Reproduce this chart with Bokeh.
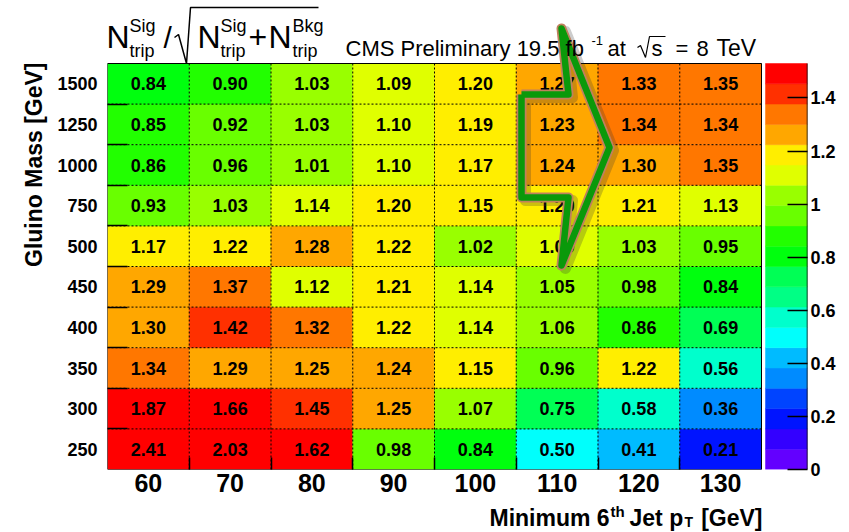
import colorsys
from bokeh.plotting import figure
from bokeh.layouts import column
from bokeh.models import (ColumnDataSource, Range1d, LinearAxis, FixedTicker,
                          LinearColorMapper, Label, Title, CustomJSTickFormatter)
from bokeh.transform import transform
from bokeh.core.properties import value
from bokeh.embed import file_html
from bokeh.resources import INLINE

# ---------------- data ----------------
min_jet_pt = [60, 70, 80, 90, 100, 110, 120, 130]
gluino_mass = [250, 300, 350, 400, 450, 500, 750, 1000, 1250, 1500]
significance = [
    [2.41, 2.03, 1.62, 0.98, 0.84, 0.50, 0.41, 0.21],  # 250
    [1.87, 1.66, 1.45, 1.25, 1.07, 0.75, 0.58, 0.36],  # 300
    [1.34, 1.29, 1.25, 1.24, 1.15, 0.96, 1.22, 0.56],  # 350
    [1.30, 1.42, 1.32, 1.22, 1.14, 1.06, 0.86, 0.69],  # 400
    [1.29, 1.37, 1.12, 1.21, 1.14, 1.05, 0.98, 0.84],  # 450
    [1.17, 1.22, 1.28, 1.22, 1.02, 1.09, 1.03, 0.95],  # 500
    [0.93, 1.03, 1.14, 1.20, 1.15, 1.20, 1.21, 1.13],  # 750
    [0.86, 0.96, 1.01, 1.10, 1.17, 1.24, 1.30, 1.35],  # 1000
    [0.85, 0.92, 1.03, 1.10, 1.19, 1.23, 1.34, 1.34],  # 1250
    [0.84, 0.90, 1.03, 1.09, 1.20, 1.27, 1.33, 1.35],  # 1500
]
z_max = 1.53
n_levels = 20
colorbar_ticks = [0, 0.2, 0.4, 0.6, 0.8, 1.0, 1.2, 1.4]

# ---------------- palette (ROOT "pretty" palette, 20 contours) ----------------
palette = []
for k in range(n_levels):
    idx = int((k + 0.99) * 50 / n_levels)
    hue = 280.0 - (idx + 1) * 280.0 / 50
    r, g, b = colorsys.hls_to_rgb(max(hue, 0) / 360.0, 0.5, 1.0)
    palette.append("#%02x%02x%02x" % (round(r * 255), round(g * 255), round(b * 255)))

# ---------------- layout geometry (pixels) ----------------
W, H = 849, 532
MAIN_H = 503
FRAME_L, FRAME_R, FRAME_B = 107, 807, 469
HEAT_TOP, HEAT_R, CB_L = 63, 761, 765
bin_w = min_jet_pt[1] - min_jet_pt[0]
px_per_x = (HEAT_R - FRAME_L) / (len(min_jet_pt) * bin_w)
px_per_y = (FRAME_B - HEAT_TOP) / len(gluino_mass)
x_lo = min_jet_pt[0] - bin_w / 2
x_hi = x_lo + (FRAME_R - FRAME_L) / px_per_x
y_hi = FRAME_B / px_per_y


def X(px):
    return x_lo + (px - FRAME_L) / px_per_x


def Y(py):
    return (FRAME_B - py) / px_per_y


FONT = "Liberation Sans"

p = figure(width=W, height=MAIN_H, x_range=Range1d(x_lo, x_hi), y_range=Range1d(0, y_hi),
           output_backend="svg", toolbar_location=None, title=None,
           min_border_left=FRAME_L, min_border_right=W - FRAME_R,
           min_border_top=0, min_border_bottom=MAIN_H - FRAME_B)
p.outline_line_color = None
p.grid.visible = False
p.background_fill_color = "white"
p.border_fill_color = "white"
p.extra_y_ranges = {"z": Range1d(0, z_max * FRAME_B / (FRAME_B - HEAT_TOP))}

mapper = LinearColorMapper(palette=palette, low=0, high=z_max, high_color=palette[-1])

# ---------------- cells ----------------
xs, ys, zs, labels = [], [], [], []
for i, m in enumerate(gluino_mass):
    for j, pt in enumerate(min_jet_pt):
        xs.append(pt)
        ys.append(i + 0.5)
        zs.append(significance[i][j])
        labels.append(f"{significance[i][j]:.2f}")
src = ColumnDataSource(dict(x=xs, y=ys, z=zs, label=labels))
p.rect(x="x", y="y", width=bin_w, height=1, source=src,
       fill_color=transform("z", mapper), line_color=transform("z", mapper), line_width=0.5)
p.text(x="x", y="y", text="label", source=src, text_align="center", text_baseline="middle",
       text_font=value(FONT), text_font_style="bold", text_font_size="18px", text_color="black")

# dotted bin-edge grid
x_edges = [pt + bin_w / 2 for pt in min_jet_pt[:-1]]
y_edges = list(range(1, len(gluino_mass)))
p.segment(x0=x_edges, y0=[0] * len(x_edges), x1=x_edges, y1=[len(gluino_mass)] * len(x_edges),
          line_color="black", line_dash="2 2", line_width=1)
p.segment(x0=[x_lo] * len(y_edges), y0=y_edges, x1=[min_jet_pt[-1] + bin_w / 2] * len(y_edges),
          y1=y_edges, line_color="black", line_dash="2 2", line_width=1)
# frame of histogram
p.quad(left=x_lo, right=min_jet_pt[-1] + bin_w / 2, bottom=0, top=len(gluino_mass),
       fill_color=None, line_color="black", line_width=1)

# ---------------- colour bar ----------------
lv = [k * z_max / n_levels for k in range(n_levels + 1)]
p.quad(left=X(CB_L), right=x_hi, bottom=lv[:-1], top=lv[1:], fill_color=palette,
       line_color=palette, line_width=0.5, y_range_name="z")
p.segment(x0=[x_hi], y0=[0], x1=[x_hi], y1=[z_max], line_color="black", line_width=1.5,
          y_range_name="z")
zaxis = LinearAxis(y_range_name="z", ticker=FixedTicker(ticks=colorbar_ticks),
                   formatter=CustomJSTickFormatter(code="return String(tick)"))
zaxis.major_tick_in = 20
zaxis.major_tick_out = 0
zaxis.major_tick_line_width = 1.5
zaxis.minor_tick_line_color = None
zaxis.axis_line_color = None
zaxis.major_label_standoff = 3
zaxis.major_label_text_font = FONT
zaxis.major_label_text_font_style = "bold"
zaxis.major_label_text_font_size = "18px"
zaxis.major_label_text_color = "black"
p.add_layout(zaxis, "right")

# ---------------- axes ----------------
xa = p.xaxis[0]
xa.ticker = FixedTicker(ticks=min_jet_pt, minor_ticks=x_edges)
xa.major_tick_line_color = None
xa.major_tick_in = 0
xa.major_tick_out = 0
xa.minor_tick_in = 12
xa.minor_tick_out = 0
xa.minor_tick_line_width = 1.5
xa.axis_line_color = None
xa.major_label_standoff = 4
xa.major_label_text_font = FONT
xa.major_label_text_font_style = "bold"
xa.major_label_text_font_size = "25px"
xa.major_label_text_color = "black"

ya = p.yaxis[0]
ya.ticker = FixedTicker(ticks=[i + 0.5 for i in range(len(gluino_mass))], minor_ticks=y_edges)
ya.major_label_overrides = {i + 0.5: str(m) for i, m in enumerate(gluino_mass)}
ya.major_tick_line_color = None
ya.major_tick_in = 0
ya.major_tick_out = 0
ya.minor_tick_in = 20
ya.minor_tick_out = 0
ya.minor_tick_line_width = 1.5
ya.axis_line_color = None
ya.major_label_standoff = 10
ya.major_label_text_font = FONT
ya.major_label_text_font_style = "bold"
ya.major_label_text_font_size = "18px"
ya.major_label_text_color = "black"

# y-axis title (ROOT style: aligned to the top of the histogram)
ytitle = Title(text="Gluino Mass [GeV]", align="right", offset=HEAT_TOP - 1,
               text_font=FONT, text_font_size="23px", text_font_style="bold",
               text_color="black")
if "standoff" in Title.properties():
    ytitle.standoff = 16
p.add_layout(ytitle, "left")


def lab(fig, fx, fy, text, px, py, size, bold=False, align="left", angle=0.0):
    # py is the pixel position of the text baseline; place the text middle
    fig.add_layout(Label(x=fx(px), y=fy(py - 0.358 * size), text=text, text_font=FONT,
                         text_font_size=f"{size}px",
                         text_font_style="bold" if bold else "normal",
                         text_align=align, text_baseline="middle", angle=angle,
                         text_color="black"))


def lm(text, px, py, size, **kw):
    lab(p, X, Y, text, px, py, size, **kw)


# title formula  N^Sig_trip / sqrt(N^Sig_trip + N^Bkg_trip)
lm("N", 106, 48, 32)
lm("Sig", 129, 32, 18)
lm("trip", 129, 57, 18)
lm("/", 163, 48, 30)
lm("N", 197, 48, 32)
lm("Sig", 220, 32, 18)
lm("trip", 220, 57, 18)
lm("+", 248, 48, 32)
lm("N", 268, 48, 32)
lm("Bkg", 292, 32, 18)
lm("trip", 292, 57, 18)
rad_px = [(174, 37), (178, 34), (186, 63), (190, 7), (318, 7)]
p.line([X(a) for a, b in rad_px], [Y(b) for a, b in rad_px], line_color="black", line_width=1.5)

# CMS label
lm("CMS Preliminary 19.5 fb", 345, 56, 22)
lm("-1", 591, 45, 13)
lm("at", 607, 56, 22)
sq_px = [(637, 47), (640, 45), (645, 57), (649, 36), (665, 36)]
p.line([X(a) for a, b in sq_px], [Y(b) for a, b in sq_px], line_color="black", line_width=1.2)
lm("s", 651, 56, 22)
lm("=", 675, 56, 22)
lm("8", 696, 56, 22)
lm("TeV", 716, 56, 23)

# ---------------- green arrow annotation ----------------
arrow_px = [(521, 94), (568, 94), (561, 28), (609, 147), (561, 265), (568, 197), (521, 197), (521, 94)]
ax = [X(a) for a, b in arrow_px]
ay = [Y(b) for a, b in arrow_px]
p.line([X(a + 4) for a, b in arrow_px], [Y(b + 3) for a, b in arrow_px],
       line_color="#333333", line_alpha=0.25, line_width=11, line_join="round")
p.line(ax, ay, line_color="#c0805e", line_width=10, line_join="round")
p.line(ax, ay, line_color="#0a990a", line_width=6.5, line_join="round")

# ---------------- x-axis title strip (frame aligned with the main plot) ----------------
p2 = figure(width=W, height=H - MAIN_H, x_range=Range1d(FRAME_L, FRAME_R),
            y_range=Range1d(H, MAIN_H),
            output_backend="svg", toolbar_location=None, title=None,
            x_axis_type=None, y_axis_type=None, min_border=0,
            min_border_left=FRAME_L, min_border_right=W - FRAME_R)
p2.outline_line_color = None
p2.grid.visible = False


def lx(text, px, py, size, **kw):
    lab(p2, lambda v: v, lambda v: v, text, px, py, size, **kw)


lx("Minimum 6", 489, 526, 23, bold=True)
lx("th", 610, 516, 15, bold=True)
lx("Jet p", 629, 526, 23, bold=True)
lx("T", 684, 527, 14, bold=True)
lx("[GeV]", 762, 526, 23, bold=True, align="right")

layout = column(p, p2, spacing=0)
open("out.html", "w").write(file_html(layout, INLINE))
